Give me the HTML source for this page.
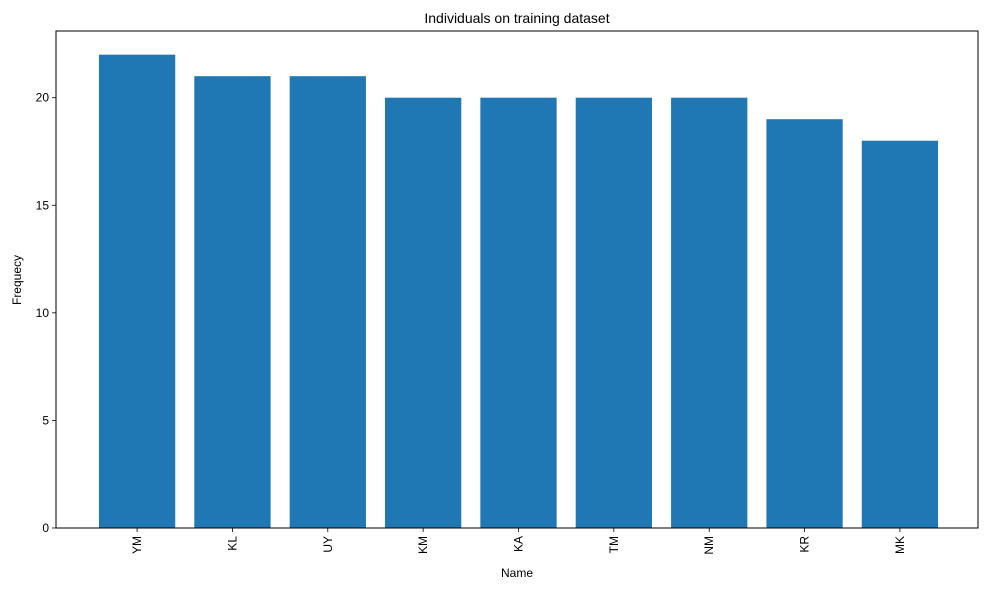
<!DOCTYPE html>
<html><head><meta charset="utf-8"><style>
body{margin:0;background:#fff;}
svg{display:block;font-family:"Liberation Sans","DejaVu Sans",sans-serif;}
</style></head><body>
<svg id="chart" width="989" height="590">
<text x="517" y="23" text-anchor="middle" font-size="14">Individuals on training dataset</text>
<text x="517" y="577" text-anchor="middle" font-size="12">Name</text>
<text transform="translate(21,280) rotate(-90)" text-anchor="middle" font-size="12">Frequecy</text>
<g id="bars"></g><g id="axes"></g>
</svg>
<script>
const categories=["YM","KL","UY","KM","KA","TM","NM","KR","MK"];
const values=[22,21,21,20,20,20,20,19,18];
const yTicks=[0,5,10,15,20];
const L=56,R=978,T=31,B=528;
const ymax=Math.max(...values)*1.05;
const n=categories.length;
const xmin=-0.4-0.05*(n-0.2),xmax=n-1+0.4+0.05*(n-0.2);
const xs=v=>L+1+(v-xmin)/(xmax-xmin)*(R-L+1);
const ys=v=>B-v/ymax*(B-T);
const NS="http://www.w3.org/2000/svg";
const bars=document.getElementById('bars'),axes=document.getElementById('axes');
function mk(tag,attrs,parent){const e=document.createElementNS(NS,tag);for(const k in attrs)e.setAttribute(k,attrs[k]);parent.appendChild(e);return e;}
categories.forEach((c,i)=>{
 const x0=xs(i-0.4),x1=xs(i+0.4);
 const r=mk('rect',{x:x0,y:ys(values[i]),width:x1-x0,height:B-ys(values[i]),fill:'#1f77b4'},bars);
 
 
 const cx=xs(i);
 mk('line',{x1:cx,x2:cx,y1:B,y2:B+4,stroke:'#000','stroke-width':0.8},axes);
 const t=mk('text',{transform:`translate(${cx+4},${B+8}) rotate(-90)`,'text-anchor':'end','font-size':12},axes);
 t.textContent=c;
 
 
});
yTicks.forEach(v=>{
 const y=ys(v);
 mk('line',{x1:L-4,x2:L,y1:y,y2:y,stroke:'#000','stroke-width':0.8},axes);
 const t=mk('text',{x:L-7,y:y+4,'text-anchor':'end','font-size':12},axes);
 t.textContent=v;
 
 
});
const f=mk('rect',{x:L,y:T,width:R-L,height:B-T,fill:'none',stroke:'#000','stroke-width':1},axes);


</script>
</body></html>
